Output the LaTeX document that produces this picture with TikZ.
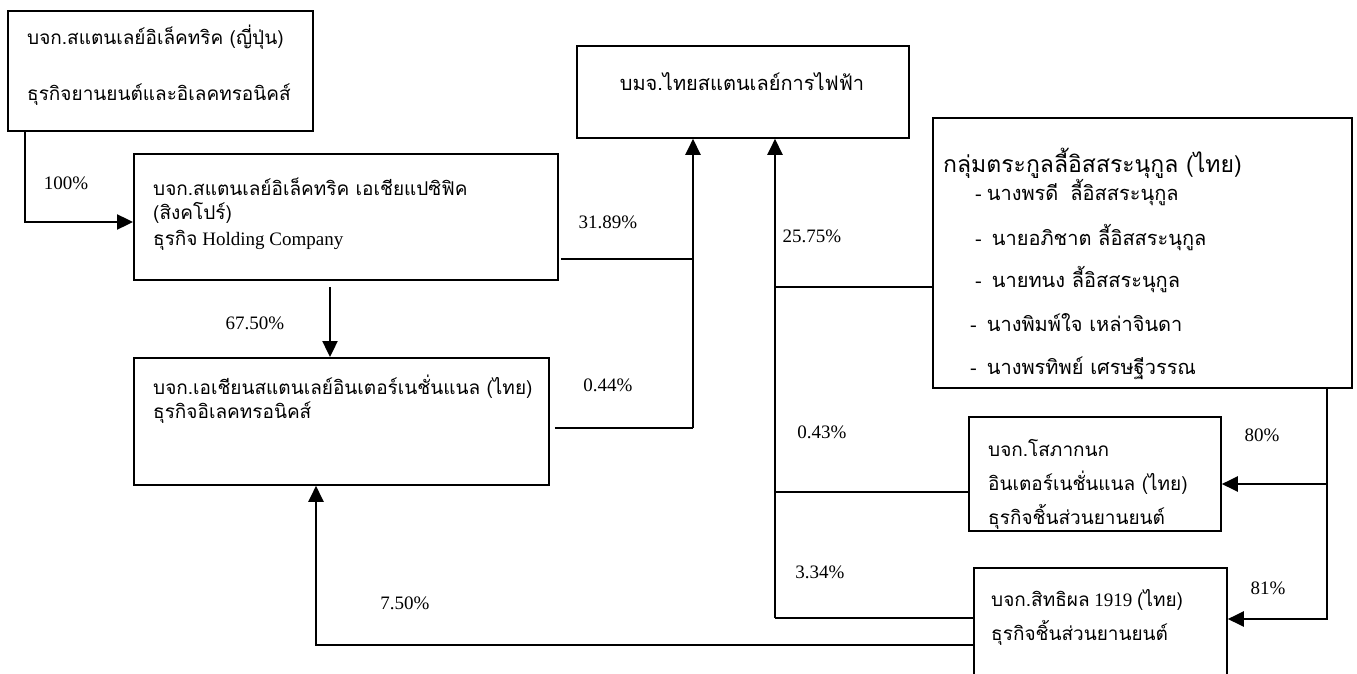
\documentclass[tikz,border=0pt]{standalone}
\usepackage{fontspec}
\setmainfont{Liberation Serif}
\newfontfamily\thaifont[Script=Thai,Scale=1.0]{Loma}
\newcommand{\tha}[1]{{\thaifont #1}}
\usetikzlibrary{arrows.meta}

\tikzset{
  box/.style={draw, line width=1.8pt, inner sep=0pt, anchor=north west},
  txt/.style={right, inner sep=0pt},
  pct/.style={inner sep=0pt},
  link/.style={line width=1.6pt},
  arr/.style={line width=2.4pt, -{Triangle[length=16pt,width=15pt]}},
}

\begin{document}
\begin{tikzpicture}[x=1pt, y=-1pt, font=\fontsize{19}{22}\selectfont]

\useasboundingbox (0,0) rectangle (1357,674);
\clip (0,0) rectangle (1357,674);

% companies
\node [box, minimum width=305pt, minimum height=120pt] (jp) at (7,10) {};
\node [box, minimum width=424pt, minimum height=126pt] (sg) at (133,153) {};
\node [box, minimum width=415pt, minimum height=127pt] (asian) at (133,357) {};
\node [box, minimum width=332pt, minimum height=92pt] (tse) at (576,45) {};
\node [box, minimum width=419pt, minimum height=270pt] (fam) at (932,117) {};
\node [box, minimum width=252pt, minimum height=114pt] (soph) at (968,416) {};
\node [box, minimum width=253pt, minimum height=140pt] (sith) at (973,567) {};

\node [txt] (jp-1) at (27,37) {\tha{บจก.สแตนเลย์อิเล็คทริค (ญี่ปุ่น)}};
\node [txt] (jp-2) at (27,95) {\tha{ธุรกิจยานยนต์และอิเลคทรอนิคส์}};
\node [txt] (sg-1) at (153,187) {\tha{บจก.สแตนเลย์อิเล็คทริค เอเชียแปซิฟิค}};
\node [txt] (sg-2) at (153,213) {\tha{(สิงคโปร์)}};
\node [txt] (sg-3) at (153,240) {\tha{ธุรกิจ} Holding Company};
\node [txt] (asian-1) at (153,387) {\tha{บจก.เอเชียนสแตนเลย์อินเตอร์เนชั่นแนล (ไทย)}};
\node [txt] (asian-2) at (153,413) {\tha{ธุรกิจอิเลคทรอนิคส์}};
\node [font=\fontsize{20}{24}\selectfont] (tse-1) at (742,82) {\tha{บมจ.ไทยสแตนเลย์การไฟฟ้า}};
\node [txt, font=\fontsize{23}{26}\selectfont] (fam-0) at (943,163) {\tha{กลุ่มตระกูลลี้อิสสระนุกูล (ไทย)}};
\begin{scope}[font=\fontsize{20}{24}\selectfont]
\node [txt] (fam-1) at (975,193) {- \tha{นางพรดี\hspace{0.6em}ลี้อิสสระนุกูล}};
\node [txt] (fam-2) at (975,238) {-\hspace{0.5em}\tha{นายอภิชาต ลี้อิสสระนุกูล}};
\node [txt] (fam-3) at (975,280) {-\hspace{0.5em}\tha{นายทนง ลี้อิสสระนุกูล}};
\node [txt] (fam-4) at (970,323) {-\hspace{0.5em}\tha{นางพิมพ์ใจ เหล่าจินดา}};
\node [txt] (fam-5) at (970,368) {-\hspace{0.5em}\tha{นางพรทิพย์ เศรษฐีวรรณ}};
\end{scope}
\node [txt] (soph-1) at (988,448) {\tha{บจก.โสภากนก}};
\node [txt] (soph-2) at (988,483) {\tha{อินเตอร์เนชั่นแนล (ไทย)}};
\node [txt] (soph-3) at (988,517) {\tha{ธุรกิจชิ้นส่วนยานยนต์}};
\node [txt] (sith-1) at (991,600) {\tha{บจก.สิทธิผล} 1919 \tha{(ไทย)}};
\node [txt] (sith-2) at (991,633) {\tha{ธุรกิจชิ้นส่วนยานยนต์}};

% turns of the lines
\coordinate (a1) at (25,222);
\coordinate (d1) at (330,287);
\coordinate (j1) at (693,259);
\coordinate (j2) at (693,428);
\coordinate (k1) at (775,287);
\coordinate (k2) at (775,492);
\coordinate (k3) at (775,618);
\coordinate (r1) at (1327,484);
\coordinate (r2) at (1327,619);
\coordinate (b1) at (316,645);

\draw [arr] (jp.south -| a1) |- (sg.west |- a1);
\draw [arr] (d1) -- (asian.north -| d1);
\draw [link] ([xshift=2pt]sg.east |- j1) -- (j1);
\draw [link] ([xshift=5pt]asian.east |- j2) -- (j2);
\draw [arr] (j2) -- (tse.south -| j1);
\draw [arr] (k3) -- (tse.south -| k3);
\draw [link] (k1) -- (fam.west |- k1);
\draw [link] (k2) -- (soph.west |- k2);
\draw [link] (k3) -- (sith.west |- k3);
\draw [arr] (fam.south -| r2) -- (r2) -- (sith.east |- r2);
\draw [arr] (r1) -- (soph.east |- r1);
\draw [arr] (sith.west |- b1) -| (asian.south -| b1);

% shares
\node [pct] (p100) at (66,183) {100\%};
\node [pct] (p6750) at (255,323) {67.50\%};
\node [pct] (p3189) at (608,222) {31.89\%};
\node [pct] (p044) at (608,385) {0.44\%};
\node [pct] (p2575) at (812,236) {25.75\%};
\node [pct] (p043) at (822,432) {0.43\%};
\node [pct] (p334) at (820,572) {3.34\%};
\node [pct] (p750) at (405,603) {7.50\%};
\node [pct] (p80) at (1262,435) {80\%};
\node [pct] (p81) at (1268,588) {81\%};

\end{tikzpicture}
\end{document}
